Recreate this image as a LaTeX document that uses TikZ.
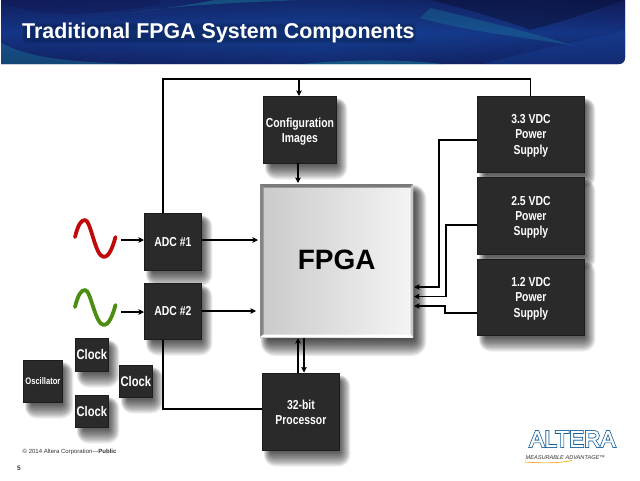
\documentclass[tikz,border=0pt]{standalone}
\usepackage{fontspec}
\setmainfont{Liberation Sans}
\newfontfamily\narrowf[FakeStretch=0.80]{Liberation Sans}
\newfontfamily\logoouter[FakeBold=8]{Liberation Sans}
\newfontfamily\logoinner[FakeBold=1]{Liberation Sans}
\usetikzlibrary{arrows.meta,calc}
\definecolor{boxc}{HTML}{2A2A2A}
\definecolor{boxe}{HTML}{1C1C1C}
\definecolor{navy}{HTML}{111B58}
\definecolor{midb}{HTML}{17459F}
\definecolor{teal1}{HTML}{1C8CA0}
\definecolor{sinr}{HTML}{C00A0A}
\definecolor{sing}{HTML}{4C8E12}
\definecolor{logob}{HTML}{14609C}
\tikzset{
  blk/.style={draw=boxe,line width=0.8pt,fill=boxc,text=white,align=center,inner sep=0pt,text depth=0pt,
    font=\narrowf\bfseries\fontsize{13}{15.2}\selectfont},
  clk/.style={blk,font=\narrowf\bfseries\fontsize{14}{15}\selectfont},
  osc/.style={blk,font=\narrowf\bfseries\fontsize{9.5}{10}\selectfont},
  wire/.style={line width=1.7pt,draw=black,line cap=butt},
  arw/.style={wire,-{Stealth[length=5.5pt,width=5.5pt,inset=1pt]}},
  sine/.style={line width=3.8pt,line cap=round,line join=round},
}
% \softshadow{x1}{y1}{x2}{y2}{layers}
\newcommand{\softshadow}[5]{%
  \foreach \s in {1,...,#5}{%
    \pgfmathsetmacro{\rr}{(#5-\s+1)*1.0}%
    \fill[black,opacity=0.075,rounded corners=\rr pt]
      ({#1+9-\rr*.6},{#2+9-\rr*.6}) rectangle ({#3+\rr*.95},{#4+1.5+\rr*1.25});}%
}
% \bx{name}{x1}{y1}{x2}{y2}{style}{text}
\newcommand{\bx}[7]{%
  \softshadow{#2}{#3}{#4}{#5}{12}%
  \node[#6,minimum width=#4pt-#2pt,minimum height=#5pt-#3pt,anchor=north west] (#1) at (#2,#3) {#7};%
}
\begin{document}
\begin{tikzpicture}[x=1pt,y=-1pt]
\useasboundingbox (0,0) rectangle (640,480);
\fill[white] (0,0) rectangle (640,480);
% banner
\begin{scope}
\path[clip] (1,0) -- (625,0) -- (625,58) to[out=-90,in=0] (619,64) -- (1,64) -- cycle;
\shade[left color=navy!80!midb,right color=midb!85!black] (0,0) rectangle (320,65);
\shade[left color=midb!85!black,right color=navy] (320,0) rectangle (640,65);
\shade[top color=navy,bottom color=navy,middle color=midb,opacity=.55] (0,0) rectangle (640,65);
% swooshes
\fill[teal1,opacity=.4] (130,13) .. controls (180,5) and (230,3) .. (300,0) -- (215,0) .. controls (190,5) and (160,9) .. (130,13) -- cycle;
\fill[teal1,opacity=.35] (0,42) .. controls (30,60) and (80,62) .. (135,64) -- (0,65) -- cycle;
\fill[teal1,opacity=.45] (290,65) .. controls (340,60) and (400,58) .. (450,65) -- cycle;
\fill[teal1,opacity=.3] (430,8) .. controls (480,20) and (530,32) .. (575,46) .. controls (530,38) and (470,32) .. (420,18) -- cycle;
\fill[navy!60!black,opacity=.5] (430,0) .. controls (480,12) and (520,26) .. (530,30) .. controls (570,20) and (600,8) .. (625,0) -- cycle;
\fill[navy,opacity=.5] (0,3) .. controls (50,20) and (100,14) .. (160,5) -- (160,0) -- (0,0) -- cycle;
\fill[midb,opacity=.35] (480,65) .. controls (530,50) and (590,40) .. (625,30) -- (625,65) -- cycle;
\end{scope}
\foreach \s in {0,1,2}{\fill[black,opacity=.07,rounded corners=3pt] ({24-\s},{25-\s}) rectangle ({414+\s},{41+\s});}
\node[anchor=west,inner sep=0pt,text=white,font=\bfseries\fontsize{21.4}{24}\selectfont] (title) at (22,32.5) {Traditional FPGA System Components};
% FPGA
\softshadow{260}{184}{413}{337}{14}
\node[left color=black!21,right color=black!4,minimum width=153pt,minimum height=153pt,anchor=north west,inner sep=0pt,
  font=\bfseries\fontsize{28}{30}\selectfont] (fpga) at (260,184) {\raisebox{1pt}{FPGA}};
\fill[black!52] (260,184) -- (413,184) -- (410.5,187.5) -- (263.5,187.5) -- cycle;
\fill[black!48] (260,184) -- (263.5,187.5) -- (263.5,334) -- (260,337) -- cycle;
\fill[black!22] (413,184) -- (410.5,187.5) -- (410.5,334.5) -- (413,337) -- cycle;
\fill[white] (260,337) -- (263.5,334.5) -- (410.5,334.5) -- (413,337) -- cycle;
% boxes
\bx{cfg}{263}{96}{336}{163}{blk}{Configuration\\Images}
\bx{p33}{477}{96}{584}{172}{blk}{3.3 VDC\\Power\\Supply}
\bx{p25}{477}{177}{584}{254}{blk}{2.5 VDC\\Power\\Supply}
\bx{p12}{477}{259}{584}{335}{blk}{1.2 VDC\\Power\\Supply}
\bx{adca}{144}{213}{201}{270}{blk}{ADC \#1}
\bx{adcb}{144}{283}{201}{339}{blk}{ADC \#2}
\bx{proc}{262}{373}{339}{450}{blk}{32-bit\\Processor}
\bx{oscl}{23}{360}{62}{402}{osc}{Oscillator}
\bx{ckA}{75}{338}{108}{371}{clk}{Clock}
\bx{ckB}{119}{365}{152}{397}{clk}{Clock}
\bx{ckC}{75}{395}{108}{427}{clk}{Clock}
% coordinates on the box edges
\coordinate (topbusL) at (163,79);
\coordinate (topbusR) at (530.5,79);
\coordinate (topT) at (299,79);
% wires
\draw[wire] (adca.north -| topbusL) -- (topbusL) -- (topbusR) -- (p33.north -| topbusR);
\draw[arw] (topT) -- (topT |- cfg.north);
\draw[arw] (298,163) -- (298,183);
\draw[wire] (adcb.south -| topbusL) -- (163,409) -- (proc.west |- 0,409);
\draw[arw] (p33.west |- 0,140) -- (439,140) -- (439,287) -- (414,287);
\draw[arw] (p25.west |- 0,225) -- (446,225) -- (446,296.5) -- (414,296.5);
\draw[arw] (p12.west |- 0,313) -- (445,313) -- (445,306) -- (414,306);
\draw[arw] (adca.east |- 0,240) -- (258,240);
\draw[arw] (adcb.east |- 0,311) -- (256,311);
\draw[arw] (298,372.5) -- (298,338);
\draw[arw] (304,338) -- (304,372.5);
% sines
\coordinate (sr) at (121,240);
\coordinate (sg) at (121,312);
\draw[arw] (sr) -- (adca.west |- sr);
\draw[arw] (sg) -- (adcb.west |- sg);
\draw[sine,sing] (75,307) .. controls (78,295) and (81,290) .. (85,290) .. controls (91,290) and (95,325) .. (104,325) .. controls (108,325) and (112,318) .. (115.5,305);
\draw[sine,sinr] (75,237) .. controls (78,225) and (81,220) .. (85,220) .. controls (91,220) and (95,257) .. (104,257) .. controls (108,257) and (112,250) .. (115.5,237);
% footer
\node[anchor=west,inner sep=0pt,text=black!80,font=\fontsize{6}{7}\selectfont] (copy) at (22.5,452) {© 2014 Altera Corporation—\textbf{Public}};
\node[anchor=west,inner sep=0pt,text=black!80,font=\bfseries\fontsize{6.5}{7}\selectfont] (pg) at (17,468.5) {5};
% logo
\node[anchor=center,inner sep=0pt,text=logob,font=\logoouter\fontsize{23}{24}\selectfont] (logoA) at (572.5,439) {\scalebox{0.98}[1]{ALTERA}};
\node[anchor=center,inner sep=0pt,text=white,font=\logoinner\fontsize{23}{24}\selectfont] (logoB) at (572.5,439) {\scalebox{0.98}[1]{ALTERA}};
\node[anchor=west,inner sep=0pt,text=black!80,font=\itshape\fontsize{5.6}{6}\selectfont] (tag) at (525.5,458) {MEASURABLE ADVANTAGE™};
\draw[orange!80!yellow,line width=.6pt] (525,462) .. controls (545,463.5) and (560,463) .. (572,460.5);
\end{tikzpicture}
\end{document}
